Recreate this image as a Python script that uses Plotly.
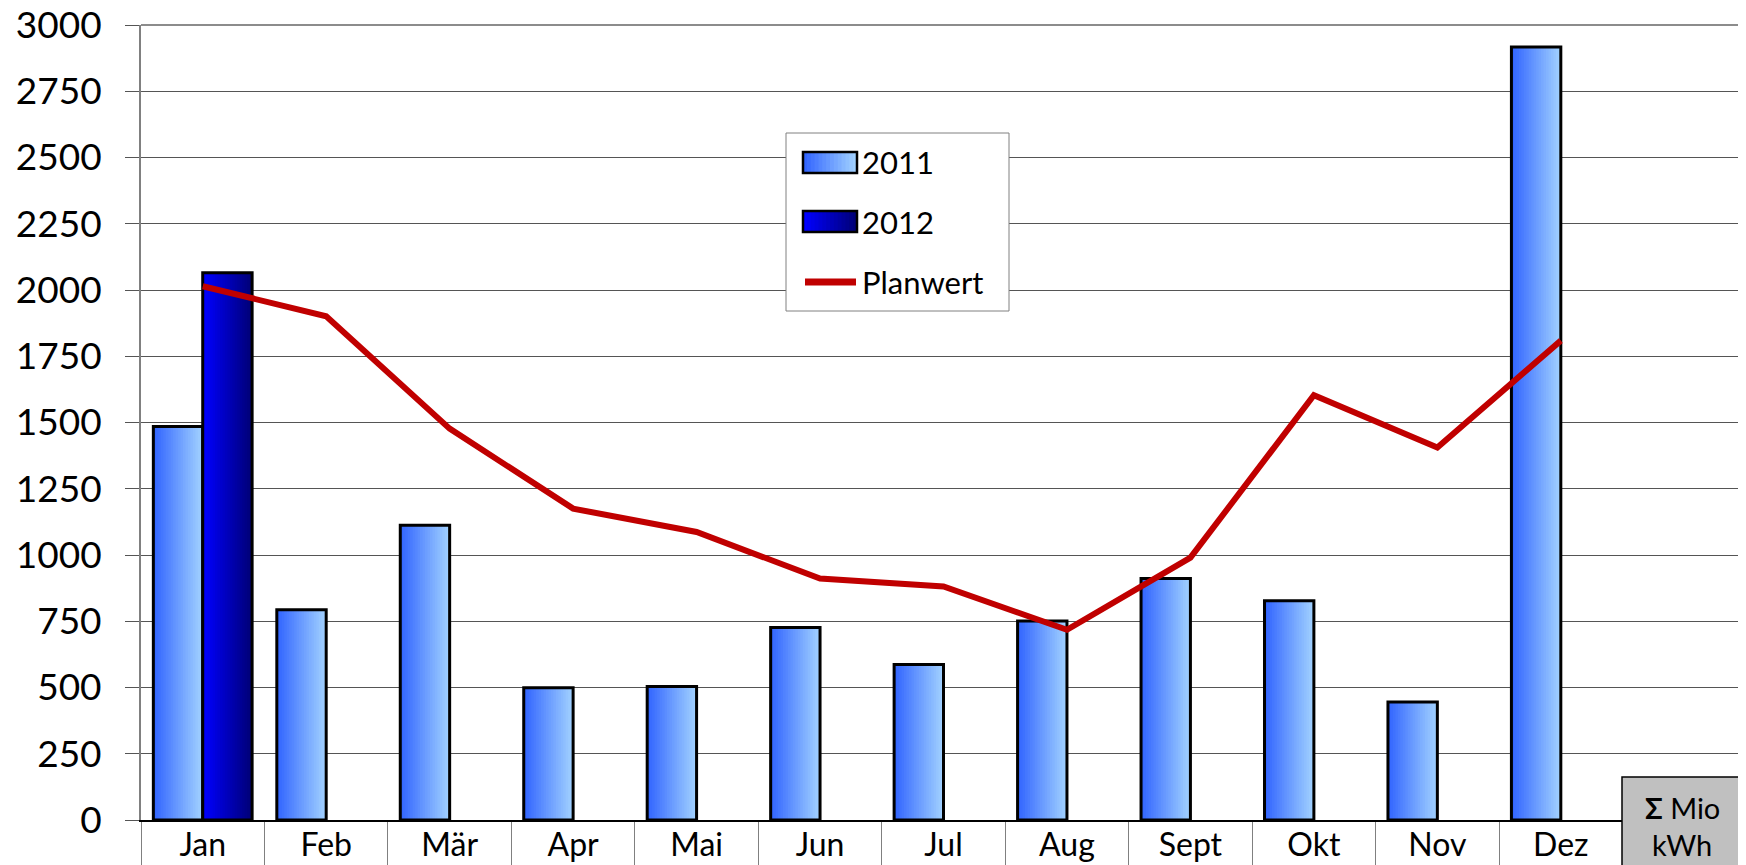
import plotly.graph_objects as go

months = ["Jan", "Feb", "Mär", "Apr", "Mai", "Jun", "Jul", "Aug", "Sept", "Okt", "Nov", "Dez"]
v2011 = [1485, 793, 1112, 499, 504, 726, 587, 751, 911, 827, 445, 2917]
v2012 = [2065, None, None, None, None, None, None, None, None, None, None, None]
planwert = [2014, 1901, 1477, 1175, 1087, 911, 881, 718, 990, 1603, 1406, 1809]
yticks = [0, 250, 500, 750, 1000, 1250, 1500, 1750, 2000, 2250, 2500, 2750, 3000]

# page is offset by the default 8px body margin; compensate in the layout
OFF = 8
PAGE_W, PAGE_H = 1746, 865
PL, PT, PR, PB = 141, 25, 1746, 820          # plot area in page pixels
W, H = PAGE_W - OFF, PAGE_H - OFF
L, T, R, B = PL - OFF, PT - OFF, 0, PAGE_H - PB
PW, PH = PR - PL, PB - PT

def pxx(p):
    return (p - PL) / PW

def pxy(p):
    return (PB - p) / PH

def lerp(c0, c1, t):
    return "rgb(%d,%d,%d)" % tuple(round(a + (b - a) * t) for a, b in zip(c0, c1))

C2011 = ((51, 102, 255), (160, 208, 255))
C2012 = ((0, 0, 255), (0, 0, 120))
NS = 20
BW = 0.4
FONT = "Lato"

fig = go.Figure()

def gradient_bars(vals, off, cols, name):
    for i in range(NS):
        w = BW / NS
        fig.add_trace(go.Bar(
            x=months, y=vals, width=min(w * 1.8, BW - i * w), offset=off + i * w,
            marker=dict(color=lerp(cols[0], cols[1], i / (NS - 1)), line=dict(width=0)),
            showlegend=False, hoverinfo="skip"))
    fig.add_trace(go.Bar(
        x=months, y=vals, width=BW, offset=off, name=name,
        marker=dict(color="rgba(0,0,0,0)", line=dict(color="black", width=3)),
        showlegend=False))

gradient_bars(v2011, -BW, C2011, "2011")
gradient_bars(v2012, 0.0, C2012, "2012")

fig.add_trace(go.Scatter(x=months, y=planwert, mode="lines", name="Planwert",
                         line=dict(color="#C00000", width=6), showlegend=False))

shapes = []
annotations = []
# top border of plot area
shapes.append(dict(type="line", xref="paper", yref="paper", x0=0, x1=1.01, y0=1, y1=1,
                   line=dict(color="#8c8c8c", width=2), layer="above"))
# custom legend
shapes.append(dict(type="rect", xref="paper", yref="paper",
                   x0=pxx(786), x1=pxx(1009), y0=pxy(311), y1=pxy(133),
                   line=dict(color="#808080", width=1), fillcolor="white", layer="above"))

def legend_rect(ytop, ybot, cols):
    x0, x1 = 803, 857
    n = 14
    for i in range(n):
        a = x0 + (x1 - x0) * i / n
        b = min(x1, x0 + (x1 - x0) * (i + 1) / n + 2)
        shapes.append(dict(type="rect", xref="paper", yref="paper",
                           x0=pxx(a), x1=pxx(b), y0=pxy(ybot), y1=pxy(ytop),
                           line=dict(width=0), fillcolor=lerp(cols[0], cols[1], i / (n - 1)),
                           layer="above"))
    shapes.append(dict(type="rect", xref="paper", yref="paper",
                       x0=pxx(x0), x1=pxx(x1), y0=pxy(ybot), y1=pxy(ytop),
                       line=dict(color="black", width=2.5), layer="above"))

legend_rect(152, 173, C2011)
legend_rect(211, 232, C2012)
shapes.append(dict(type="line", xref="paper", yref="paper",
                   x0=pxx(805), x1=pxx(856), y0=pxy(282), y1=pxy(282),
                   line=dict(color="#C00000", width=7), layer="above"))
for label, yc in (("2011", 162), ("2012", 222), ("Planwert", 282)):
    annotations.append(dict(text=label, xref="paper", yref="paper", x=pxx(860), y=pxy(yc),
                            xanchor="left", yanchor="middle", showarrow=False,
                            font=dict(family=FONT, size=31, color="black")))

# sum cell
shapes.append(dict(type="rect", xref="paper", yref="paper",
                   x0=pxx(1622), x1=pxx(1770), y0=pxy(890), y1=pxy(777),
                   line=dict(color="black", width=1.5), fillcolor="#C0C0C0", layer="above"))
annotations.append(dict(text="<b>Σ</b> Mio", xref="paper", yref="paper", x=pxx(1682), y=pxy(807),
                        xanchor="center", yanchor="middle", showarrow=False,
                        font=dict(family=FONT, size=29, color="black")))
annotations.append(dict(text="kWh", xref="paper", yref="paper", x=pxx(1682), y=pxy(844),
                        xanchor="center", yanchor="middle", showarrow=False,
                        font=dict(family=FONT, size=29, color="black")))

fig.update_layout(
    width=W, height=H,
    margin=dict(l=L, r=R, t=T, b=B, pad=0, autoexpand=False),
    paper_bgcolor="white", plot_bgcolor="white",
    barmode="overlay",
    showlegend=False,
    shapes=shapes, annotations=annotations,
    font=dict(family=FONT, color="black"),
)
fig.update_xaxes(
    range=[-0.5, 12.5], type="category", automargin=False,
    showline=True, linecolor="black", linewidth=1.5,
    ticks="outside", tickson="boundaries", ticklen=50, tickcolor="#808080", tickwidth=1,
    ticklabelstandoff=-4,
    tickfont=dict(family=FONT, size=32, color="black"),
    showgrid=False, zeroline=False,
)
fig.update_yaxes(
    range=[0, 3000], tickvals=yticks, ticktext=[str(v) for v in yticks], automargin=False,
    showline=True, linecolor="#808080", linewidth=2,
    ticks="outside", ticklen=14, tickcolor="#555555", tickwidth=1,
    ticklabelstandoff=16, ticklabeloverflow="allow",
    tickfont=dict(family=FONT, size=37, color="black"),
    showgrid=True, gridcolor="#555555", gridwidth=1, zeroline=False,
)

fig.write_html("out.html")
